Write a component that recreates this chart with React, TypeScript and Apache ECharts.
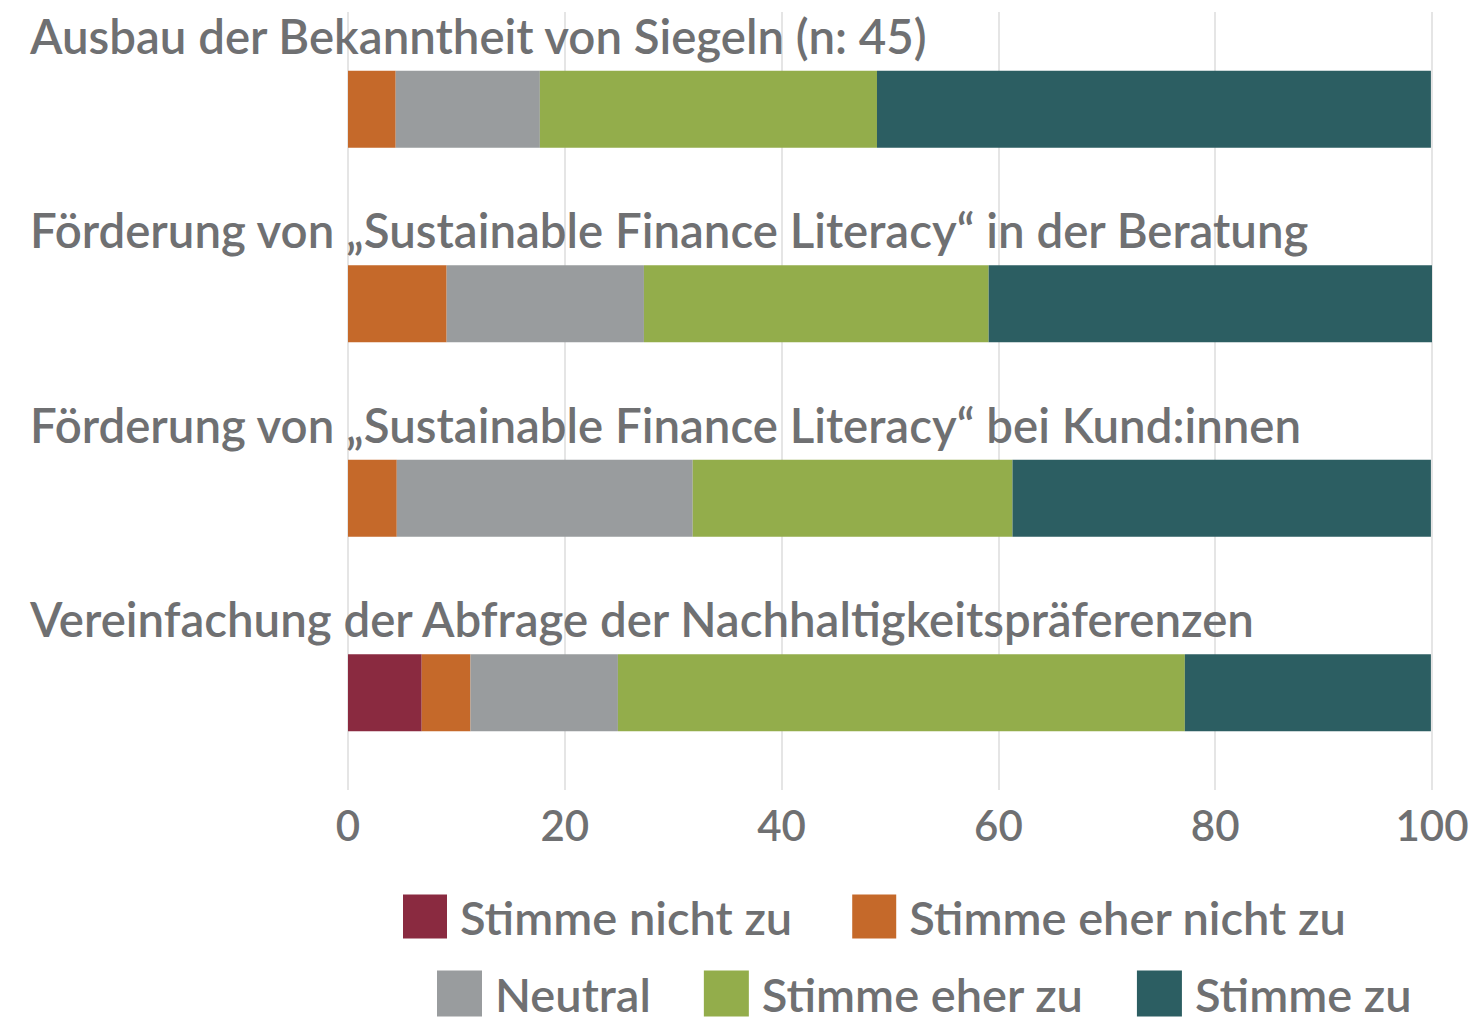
import React, { useEffect, useRef } from "react";
import * as echarts from "echarts";

const categories = [
  "Ausbau der Bekanntheit von Siegeln (n: 45)",
  "Förderung von „Sustainable Finance Literacy“ in der Beratung",
  "Förderung von „Sustainable Finance Literacy“ bei Kund:innen",
  "Vereinfachung der Abfrage der Nachhaltigkeitspräferenzen",
];

const seriesNames = [
  "Stimme nicht zu",
  "Stimme eher nicht zu",
  "Neutral",
  "Stimme eher zu",
  "Stimme zu",
];

const stimmeNichtZu = [0, 0, 0, 6.8];
const stimmeEherNichtZu = [4.4, 9.1, 4.5, 4.5];
const neutral = [13.3, 18.2, 27.3, 13.6];
const stimmeEherZu = [31.1, 31.8, 29.5, 52.3];
const stimmeZu = [51.1, 40.9, 38.6, 22.7];

const seriesValues = [stimmeNichtZu, stimmeEherNichtZu, neutral, stimmeEherZu, stimmeZu];
const colors = ["#8a2a40", "#c5692a", "#999c9e", "#93ad4b", "#2c5e62"];

const xTicks = [0, 20, 40, 60, 80, 100];

const FONT = "Lato";
const TEXT = "#6f7072";
const WEIGHT = 600;

export default function App() {
  const ref = useRef<HTMLDivElement>(null);
  useEffect(() => {
    if (!ref.current) return;
    const chart = echarts.init(ref.current, undefined, { renderer: "svg" });
    const legendText = {
      color: TEXT,
      fontFamily: FONT,
      fontSize: 47,
      fontWeight: WEIGHT,
      lineHeight: 44,
      padding: [0, 0, 0, 8],
    };
    chart.setOption({
      animation: false,
      backgroundColor: "#ffffff",
      grid: { left: 348, right: 40, top: 12, bottom: 233, containLabel: false },
      xAxis: {
        type: "value",
        min: xTicks[0],
        max: xTicks[xTicks.length - 1],
        interval: 20,
        axisLine: { show: false },
        axisTick: { show: false },
        splitLine: { show: true, lineStyle: { color: "#dcdcdc", width: 1.5 } },
        axisLabel: {
          color: TEXT,
          fontFamily: FONT,
          fontSize: 42,
          fontWeight: WEIGHT,
          margin: 14,
        },
      },
      yAxis: {
        type: "category",
        data: categories,
        inverse: true,
        axisLine: { show: false },
        axisTick: { show: false },
        splitLine: { show: false },
        axisLabel: { show: false },
      },
      legend: [
        {
          data: seriesNames.slice(0, 2),
          left: 403,
          top: 893,
          padding: 0,
          itemWidth: 44,
          itemHeight: 44,
          itemGap: 60,
          icon: "rect",
          textStyle: legendText,
        },
        {
          data: seriesNames.slice(2),
          left: 437,
          top: 970,
          padding: 0,
          itemWidth: 45,
          itemHeight: 46,
          itemGap: 53,
          icon: "rect",
          textStyle: legendText,
        },
      ],
      series: seriesNames.map((name, i) => ({
        name,
        type: "bar",
        stack: "total",
        barWidth: 77,
        data: seriesValues[i],
        itemStyle: { color: colors[i] },
        emphasis: { disabled: true },
        label:
          i === 0
            ? {
                show: true,
                position: [-318, -59],
                align: "left",
                verticalAlign: "top",
                color: TEXT,
                fontFamily: FONT,
                fontSize: 47.4,
                fontWeight: WEIGHT,
                formatter: (p: any) => categories[p.dataIndex],
              }
            : { show: false },
      })),
    });
    return () => chart.dispose();
  }, []);
  return <div ref={ref} style={{ width: 1472, height: 1023, position: "absolute", left: 0, top: 0 }} />;
}
